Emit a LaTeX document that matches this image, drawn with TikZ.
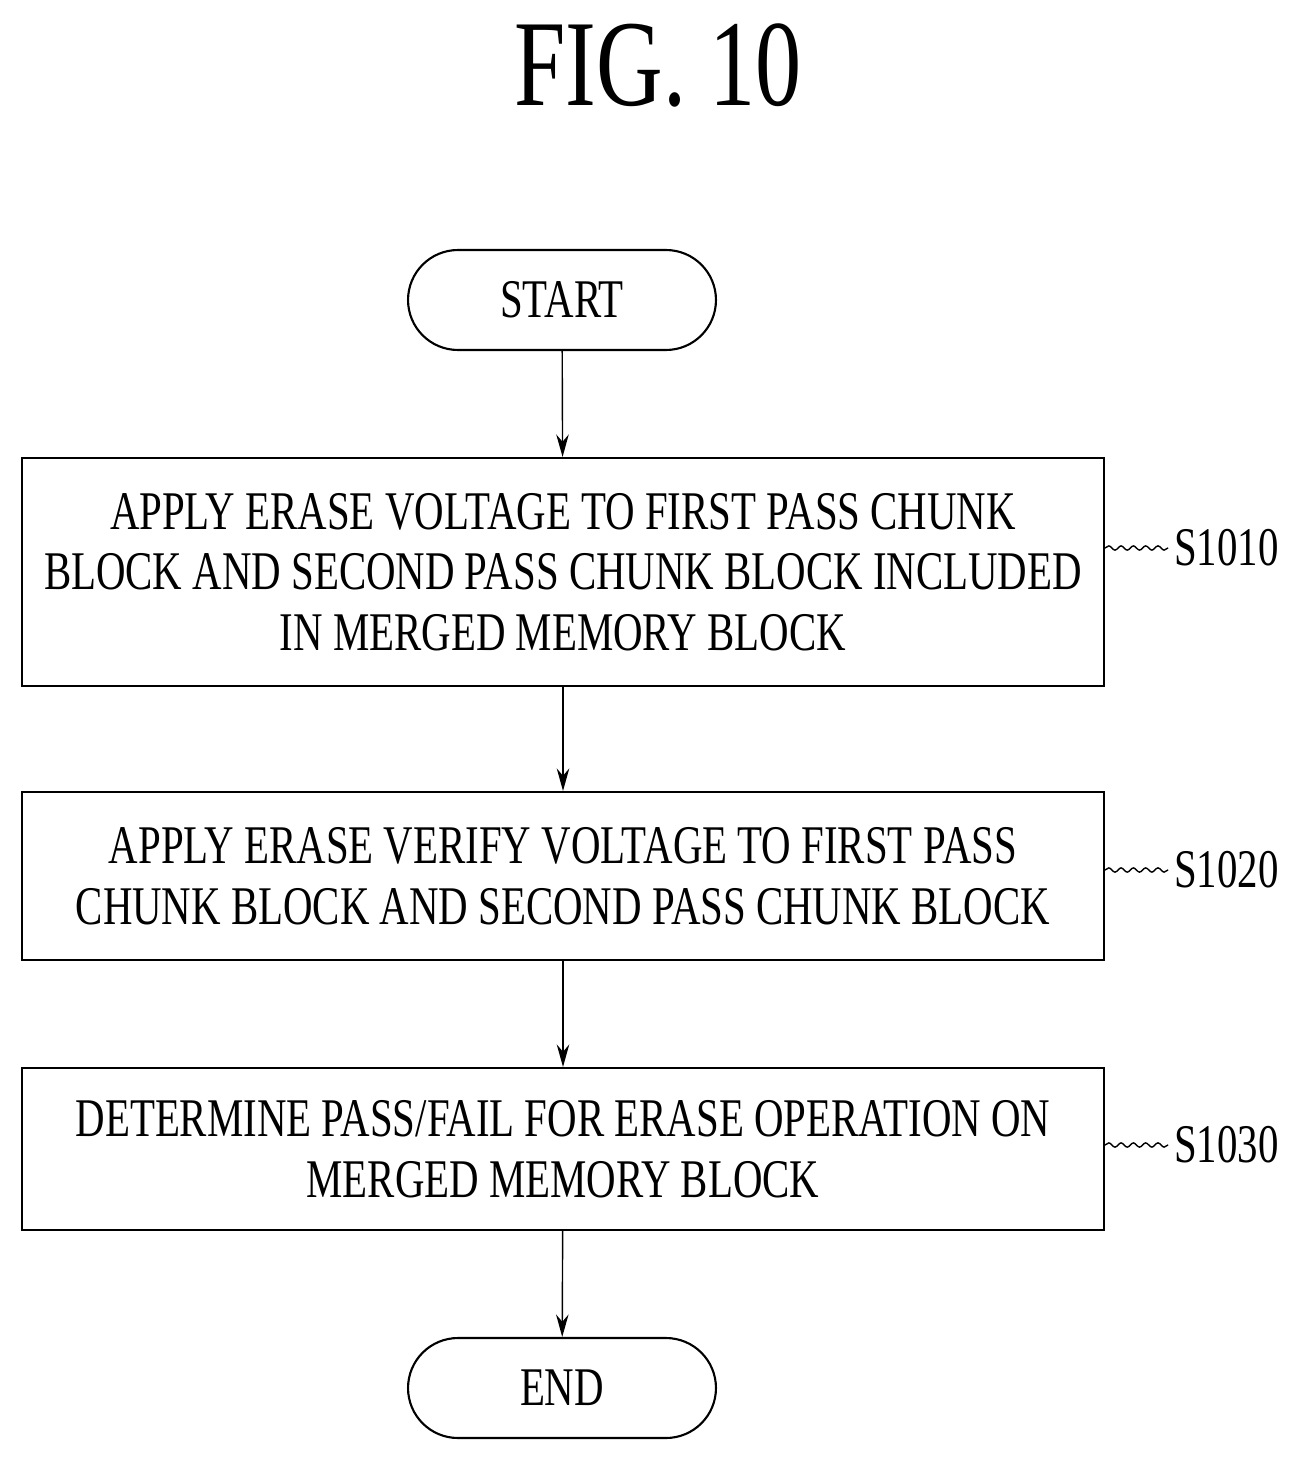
\documentclass[tikz,border=0pt]{standalone}
\usepackage{fontspec}
\setmainfont{Liberation Serif}[FakeStretch=0.75]
\usetikzlibrary{arrows.meta,decorations.pathmorphing}

\begin{document}
\begin{tikzpicture}[x=0.02cm,y=-0.02cm]
  \tikzset{proc/.style={draw, very thick, minimum width=21.64cm, align=center,
      font=\fontsize{31}{34.5}\selectfont, inner sep=0},
    term/.style={draw, very thick, rounded corners=1cm, minimum width=6.16cm,
      minimum height=2cm, font=\fontsize{31}{34}\selectfont},
    lbl/.style={anchor=west, font=\fontsize{31}{34}\selectfont},
    flow/.style={thick, -{Stealth[length=0.45cm,width=0.25cm]}},
    tag/.style={thick, decorate, decoration={snake, amplitude=1.2pt, segment length=7pt}}}
  \useasboundingbox (0,0) rectangle (1313,1466);
  \node (fig) at (658,65) {\fontsize{70}{70}\selectfont FIG. 10};
  \node[term] (start) at (562,300) {START};
  \node[proc, minimum height=4.56cm] (s1) at (563,572) {APPLY ERASE VOLTAGE TO FIRST PASS CHUNK\\
    BLOCK AND SECOND PASS CHUNK BLOCK INCLUDED\\ IN MERGED MEMORY BLOCK};
  \node[proc, minimum height=3.36cm] (s2) at (563,876) {APPLY ERASE VERIFY VOLTAGE TO FIRST PASS\\
    CHUNK BLOCK AND SECOND PASS CHUNK BLOCK};
  \node[proc, minimum height=3.24cm] (s3) at (563,1149) {DETERMINE PASS/FAIL FOR ERASE OPERATION ON\\
    MERGED MEMORY BLOCK};
  \node[term] (end) at (562,1388) {END};
  % step labels
  \node[lbl] (l1) at (1168,548) {S1010};
  \node[lbl] (l2) at (1168,870) {S1020};
  \node[lbl] (l3) at (1168,1145) {S1030};
  \draw[tag] (s1.east |- l1) -- (l1.west);
  \draw[tag] (s2.east |- l2) -- (l2.west);
  \draw[tag] (s3.east |- l3) -- (l3.west);
  \draw[flow] (start) -- (s1);
  \draw[flow] (s1) -- (s2);
  \draw[flow] (s2) -- (s3);
  \draw[flow] (s3) -- (end);
\end{tikzpicture}
\end{document}
